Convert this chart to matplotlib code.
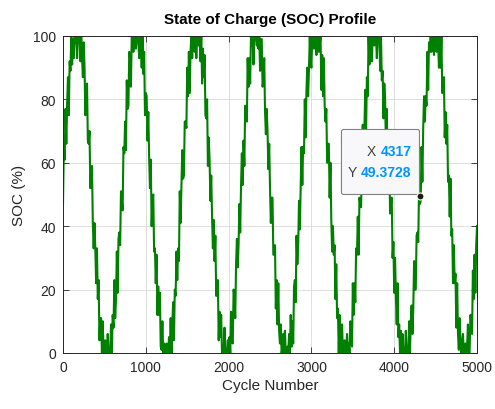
import numpy as np
import matplotlib.pyplot as plt
from matplotlib.patches import FancyBboxPatch

plt.rcParams['font.family'] = ['Liberation Sans', 'DejaVu Sans']

# SOC every 10 cycles (noisy band, clipped at 0/100)
cycle_step = 10
soc = [
    # 0 - 710
    47, 65, 61, 77, 66, 79, 87, 75, 92, 89, 100, 91, 99, 93, 100, 98, 100, 93,
    100, 100, 100, 92, 100, 93, 87, 98, 90, 75, 84, 85, 67, 66, 70, 52, 58, 59,
    41, 33, 41, 33, 22, 33, 17, 23, 4, 11, 11, 0, 10, 0, 0, 4, 0, 0,
    6, 0, 0, 0, 9, 0, 12, 8, 23, 11, 17, 32, 19, 36, 38, 34, 51, 48,
    # 720 - 1430
    45, 65, 63, 73, 64, 86, 77, 78, 95, 93, 84, 100, 100, 95, 99, 100, 96, 100,
    100, 98, 93, 100, 99, 90, 100, 88, 95, 75, 82, 81, 67, 76, 62, 52, 61, 40,
    48, 50, 32, 33, 22, 31, 12, 21, 12, 19, 2, 1, 10, 0, 3, 0, 0, 3,
    0, 0, 5, 0, 11, 0, 9, 16, 4, 20, 18, 32, 23, 33, 29, 51, 41, 53,
    # 1440 - 2150
    64, 55, 56, 73, 73, 71, 90, 81, 95, 82, 95, 100, 93, 100, 99, 95, 100, 93,
    100, 100, 97, 100, 92, 100, 85, 96, 87, 94, 75, 74, 80, 59, 68, 61, 48, 56,
    43, 33, 42, 29, 37, 18, 22, 23, 4, 13, 5, 12, 0, 1, 0, 8, 0, 0,
    0, 4, 0, 5, 0, 13, 4, 3, 20, 18, 11, 28, 36, 27, 34, 47, 38, 53,
    # 2160 - 2870
    63, 53, 67, 59, 78, 75, 73, 93, 84, 93, 85, 100, 97, 100, 91, 100, 100, 100,
    97, 100, 96, 100, 89, 99, 99, 84, 86, 93, 76, 69, 77, 70, 58, 66, 52, 41,
    49, 49, 31, 31, 34, 14, 23, 9, 22, 7, 3, 9, 0, 2, 6, 0, 7, 0,
    0, 2, 0, 6, 0, 12, 2, 10, 3, 21, 23, 16, 37, 28, 34, 48, 39, 52,
    # 2880 - 3590
    65, 53, 65, 63, 80, 68, 83, 90, 81, 89, 100, 92, 90, 100, 100, 96, 100, 100,
    94, 100, 100, 95, 97, 100, 83, 94, 81, 93, 78, 73, 77, 60, 66, 66, 49, 60,
    42, 32, 40, 31, 34, 17, 28, 11, 14, 0, 12, 7, 0, 9, 0, 0, 4, 0,
    0, 6, 0, 3, 0, 10, 5, 2, 22, 12, 22, 16, 33, 31, 43, 31, 49, 47,
    # 3600 - 4310
    46, 63, 72, 63, 71, 83, 70, 87, 81, 100, 91, 92, 100, 92, 100, 100, 97, 100,
    100, 93, 100, 99, 100, 89, 100, 86, 89, 74, 85, 80, 64, 77, 60, 57, 62, 44,
    47, 49, 30, 35, 19, 30, 18, 9, 22, 5, 9, 0, 7, 0, 6, 0, 1, 0,
    7, 0, 0, 0, 10, 0, 10, 15, 6, 14, 29, 20, 20, 37, 38, 35, 52, 47,
    # 4320 - 5000
    48, 65, 54, 71, 81, 73, 81, 78, 95, 83, 98, 95, 100, 95, 98, 100, 94, 100,
    100, 95, 100, 98, 90, 100, 90, 100, 82, 86, 87, 68, 76, 66, 72, 54, 56, 43,
    55, 37, 39, 22, 34, 22, 25, 8, 22, 6, 1, 11, 4, 0, 3, 6, 0, 0,
    3, 0, 2, 9, 0, 0, 12, 10, 6, 26, 17, 31, 19, 34, 40,
]
cycles = np.arange(len(soc)) * cycle_step

tip_x, tip_y = 4317, 49.3728

xticks = [0, 1000, 2000, 3000, 4000, 5000]
yticks = [0, 20, 40, 60, 80, 100]

ink = '#262626'
fig = plt.figure(figsize=(4.95, 4.10), dpi=100)
ax = fig.add_axes([0.1273, 0.1366, 0.8364, 0.7732])

ax.plot(cycles, soc, color='#008000', lw=1.5)
ax.set_xlim(0, 5000)
ax.set_ylim(0, 100)
ax.set_xticks(xticks)
ax.set_yticks(yticks)
ax.grid(True, color='#DFDFDF', lw=0.7)
ax.set_axisbelow(True)
ax.tick_params(direction='in', length=4, width=0.6, colors=ink, labelsize=10,
               top=True, right=True, pad=5)
for s in ax.spines.values():
    s.set_color(ink)
    s.set_linewidth(0.7)

ax.set_title('State of Charge (SOC) Profile', fontsize=11, fontweight='bold',
             color='black', pad=9)
ax.set_xlabel('Cycle Number', fontsize=11, color=ink, labelpad=3)
ax.set_ylabel('SOC (%)', fontsize=11, color=ink, labelpad=5)

# data tip
ax.plot([tip_x], [tip_y], 'o', ms=5, mfc='#1a1a1a', mec='#FFFFE0', mew=0.8,
        zorder=6)
px, py = ax.transData.transform((tip_x, tip_y))
inv = ax.transData.inverted()
(bx0, by0) = inv.transform((px - 79, py + 2))
(bx1, by1) = inv.transform((px - 1, py + 67))
box = FancyBboxPatch((bx0, by0), bx1 - bx0, by1 - by0,
                     boxstyle='round,pad=0,rounding_size=25',
                     mutation_aspect=(by1 - by0) / (bx1 - bx0) * 1.2,
                     fc='#F8F8FB', ec='#808080', lw=0.8, zorder=5)
ax.add_patch(box)
for dy, lab, val in [(45, 'X', f'{tip_x}'), (24, 'Y', f'{tip_y}')]:
    t = ax.annotate(val, (tip_x, tip_y), xytext=(-9, dy), textcoords='offset pixels',
                    ha='right', va='center', fontsize=10, fontweight='bold',
                    color='#0096FF', zorder=7)
    fig.canvas.draw()
    bb = t.get_window_extent()
    ax.annotate(lab + ' ', (tip_x, tip_y), xytext=(bb.x0 - px, dy),
                textcoords='offset pixels', ha='right', va='center',
                fontsize=10, color='#404040', zorder=7)

fig.savefig('out.png', dpi=100)
